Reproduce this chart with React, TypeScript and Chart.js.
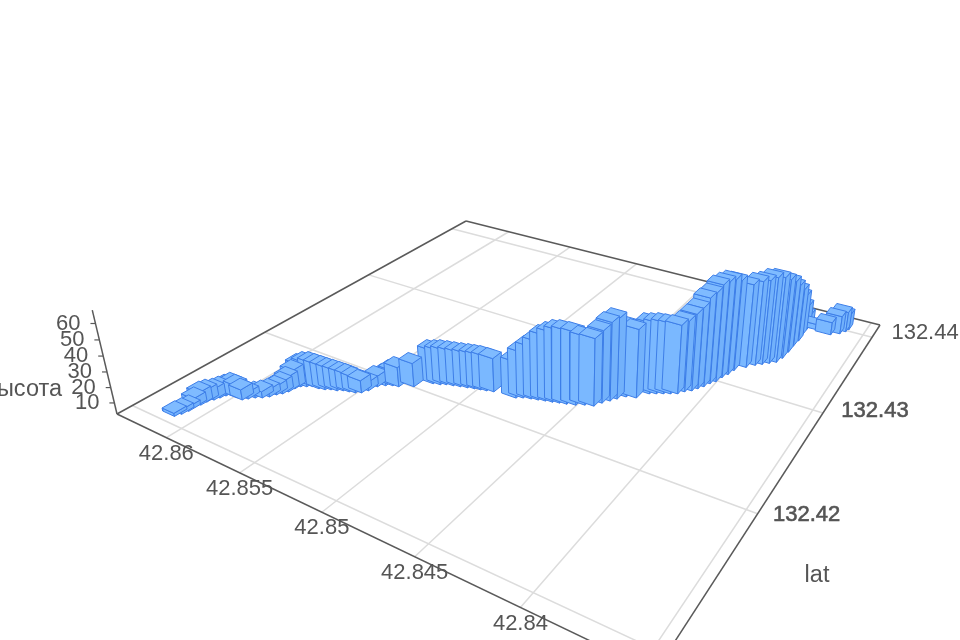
import React, { useEffect, useRef } from "react";
import { Chart, registerables } from "chart.js";
Chart.register(...registerables);

const lons = [42.86157,42.86142,42.86134,42.86138,42.86127,42.86123,42.86107,42.86096,42.86085,42.86059,42.86023,42.85987,42.85968,42.85945,42.85915,42.85891,42.85875,42.85856,42.85844,42.85838,42.85826,42.858,42.85773,42.85733,
42.857,42.85674,42.85641,42.85615,42.85582,42.85549,42.85523,42.85506,42.85492,42.85463,42.85432,42.854,42.85334,42.85268,42.85231,42.85205,42.85168,42.85132,42.85095,42.85059,42.85027,42.84996,42.8496,42.84833,
42.84803,42.84764,42.84729,42.84694,42.84659,42.84625,42.8459,42.84547,42.84509,42.84467,42.84446,42.84421,42.844,42.8437,42.84323,42.84284,42.84254,42.84224,42.84194,42.84164,42.84142,42.84115,42.84097,42.84079,
42.84064,42.84046,42.84035,42.8402,42.84009,42.83967,42.83934,42.83906,42.83878,42.8385,42.83837,42.83832,42.83831,42.83826,42.8383,42.8383,42.83823,42.83782,42.83697,42.83657,42.83636,42.83628];
const lats = [132.41099,132.41134,132.41175,132.41221,132.41253,132.41292,132.41328,132.41361,132.41394,132.41413,132.41414,132.41415,132.4144,132.41469,132.41491,132.4152,132.41557,132.41583,132.41617,132.4166,132.41694,132.41713,132.41732,132.41735,
132.41746,132.41764,132.41775,132.41794,132.41804,132.41815,132.41834,132.41872,132.41933,132.41967,132.41989,132.41999,132.42046,132.42132,132.42145,132.42164,132.42177,132.4219,132.42203,132.42216,132.42226,132.42236,132.42249,132.42263,
132.42285,132.42301,132.42313,132.42326,132.42338,132.42351,132.42363,132.42381,132.42409,132.42427,132.42478,132.42521,132.4256,132.42607,132.42628,132.42706,132.42727,132.42749,132.4277,132.42792,132.42833,132.42864,132.42903,132.42942,
132.42991,132.4303,132.43091,132.43142,132.43204,132.43275,132.43327,132.4336,132.43394,132.43428,132.43494,132.43584,132.43673,132.43752,132.43841,132.4392,132.43957,132.43954,132.43936,132.4398,132.44027,132.44064];
const heights = [4.7,5.4,5.4,8.1,10.7,10.1,9.4,9.5,9.5,10.8,10.8,9.4,6.8,6.1,6.8,7.4,8.1,10.2,12.2,14.9,17.7,19,19,19,
18.3,16.9,16.3,14.9,14.2,12.9,10.8,8.2,9.5,10.2,12.9,15.6,18.3,25.1,25.7,25.7,25.7,25.6,25.6,25.6,25.6,25.5,24.8,26.6,
32.5,36.9,40.7,45.1,47.6,49.4,49.9,49.3,46.8,46.1,49.3,53.2,54.6,49,47.1,48.6,48.6,48.6,47.9,47.3,48.7,52.5,55.1,60.3,
61.8,65.7,65.3,65,62.1,57.8,58.6,58.7,60,59.5,55.8,51,44.6,38.7,30.7,20.2,12.2,6.4,11.4,15,16.5,13.7];

const lonTicks = [42.86, 42.855, 42.85, 42.845, 42.84, 42.835];
const lonLabelled = ["42.86", "42.855", "42.85", "42.845", "42.84"];
const latTicks = [132.44, 132.43, 132.42, 132.41];
const latLabelled = ["132.44", "132.43", "132.42"];
const heightTicks = [10, 20, 30, 40, 50, 60];

const lonL = 42.8637, lonF = 42.8345, latMin = 132.409, latMax = 132.4419, hMin = 2.7, hMax = 68;
const A = 338.6, B = 565.7, C = 117, D = 53.4, E = -90.2, F = 414, G = -0.30445, H = 0.46498;
const K = -0.000806, VX = 562, VY = 2283;
const barLon = 0.00044, barLat = 0.00043;

function project(lon: number, lat: number, h: number) {
  const s = (lonL - lon) / (lonL - lonF), t = (lat - latMin) / (latMax - latMin), z = h - hMin;
  const w = G * s + H * t + 1 + z * K;
  return { x: (A * s + B * t + C + z * K * VX) / w, y: (D * s + E * t + F + z * K * VY) / w };
}

function App() {
  const ref = useRef<HTMLCanvasElement>(null);
  useEffect(() => {
    const bars = lons.map((lon, i) => ({ lon, lat: lats[i], h: heights[i] }));
    const depth = (b: any) => { const s=(lonL-b.lon)/(lonL-lonF), t=(b.lat-latMin)/(latMax-latMin); return G*s+H*t+1; };
    bars.sort((a, b) => depth(a) - depth(b));
    const poly = (p: any[], bg: string) => ({ type: "line", data: [...p, p[0]], borderColor: "#3d7ee8", borderWidth: 1, backgroundColor: bg, fill: "shape", pointRadius: 0, tension: 0 });
    const seg = (a: any, b: any, c: string, w: number) => ({ type: "line", data: [a, b], borderColor: c, borderWidth: w, pointRadius: 0, fill: false, tension: 0 });
    const ds: any[] = [];
    for (const b of bars) {
      const x0 = b.lon + barLon, x1 = b.lon - barLon, y0 = b.lat - barLat, y1 = b.lat + barLat;
      ds.push(poly([project(x0,y0,b.h),project(x1,y0,b.h),project(x1,y1,b.h),project(x0,y1,b.h)], "#7fbbff"));
      ds.push(poly([project(x1,y0,hMin),project(x1,y1,hMin),project(x1,y1,b.h),project(x1,y0,b.h)], "#72b1fb"));
      ds.push(poly([project(x0,y0,hMin),project(x1,y0,hMin),project(x1,y0,b.h),project(x0,y0,b.h)], "#7ab8ff"));
    }
    const dark = "#5a5a5a", grid = "#dcdcdc";
    ds.push(seg(project(lonL,latMin,hMin),project(lonL,latMax,hMin),dark,1.5));
    ds.push(seg(project(lonL,latMax,hMin),project(lonF,latMax,hMin),dark,1.5));
    ds.push(seg(project(lonF,latMax,hMin),project(lonF,latMin,hMin),dark,1.5));
    ds.push(seg(project(lonF,latMin,hMin),project(lonL,latMin,hMin),dark,1.5));
    ds.push(seg(project(lonL,latMin,hMin),project(lonL,latMin,hMax),dark,1.5));
    for (const h of heightTicks) { const p = project(lonL,latMin,h); ds.push(seg(p,{x:p.x-5,y:p.y},dark,1.2)); }
    for (const l of lonTicks) ds.push(seg(project(l,latMin,hMin),project(l,latMax,hMin),grid,1.5));
    for (const l of latTicks) ds.push(seg(project(lonL,l,hMin),project(lonF,l,hMin),grid,1.5));
    const latOffsets = [[53,-4],[52,-2],[49,1]];
    const textPlugin = {
      id: "texts",
      afterDraw(chart: any) {
        const c = chart.ctx, X = chart.scales.x, Y = chart.scales.y;
        c.save(); c.fillStyle = "#555"; c.strokeStyle = "#555"; c.lineWidth = 0.6; c.font = "22px 'Liberation Sans'"; c.textBaseline = "middle";
        c.textAlign = "center";
        lonLabelled.forEach((t, i) => { const p = project(lonTicks[i], latMin, hMin); c.fillText(t, X.getPixelForValue(p.x), Y.getPixelForValue(p.y+16)); });
        latLabelled.forEach((t, i) => {
          const p = project(lonF, latTicks[i], hMin);
          const x = X.getPixelForValue(p.x+latOffsets[i][0]), y = Y.getPixelForValue(p.y+latOffsets[i][1]);
          c.fillText(t, x, y);
          if (i > 0) c.strokeText(t, x, y);
        });
        c.textAlign = "right";
        heightTicks.forEach((h) => { const p = project(lonL, latMin, h); c.fillText(String(h), X.getPixelForValue(p.x-15), Y.getPixelForValue(p.y)); });
        c.font = "23.5px 'Liberation Sans'";
        c.fillText("Высота", 62, 390);
        c.textAlign = "center";
        c.fillText("lat", 817, 576);
        c.restore();
      },
    };
    const chart = new Chart(ref.current!, {
      type: "line",
      data: { datasets: ds },
      options: {
        animation: false, responsive: false, parsing: false, normalized: false,
        layout: { padding: 0 },
        plugins: { legend: { display: false }, tooltip: { enabled: false }, title: { display: false } },
        scales: {
          x: { type: "linear", min: 0, max: 960, display: false },
          y: { type: "linear", min: 0, max: 640, reverse: true, display: false },
        },
      } as any,
      plugins: [textPlugin],
    } as any);
    return () => chart.destroy();
  }, []);
  return (
    <div style={{ position: "fixed", left: 0, top: 0, width: 960, height: 640, background: "#fff" }}>
      <canvas ref={ref} width={960} height={640} style={{ display: "block", filter: "blur(0.6px)" }} />
    </div>
  );
}
export default App;
